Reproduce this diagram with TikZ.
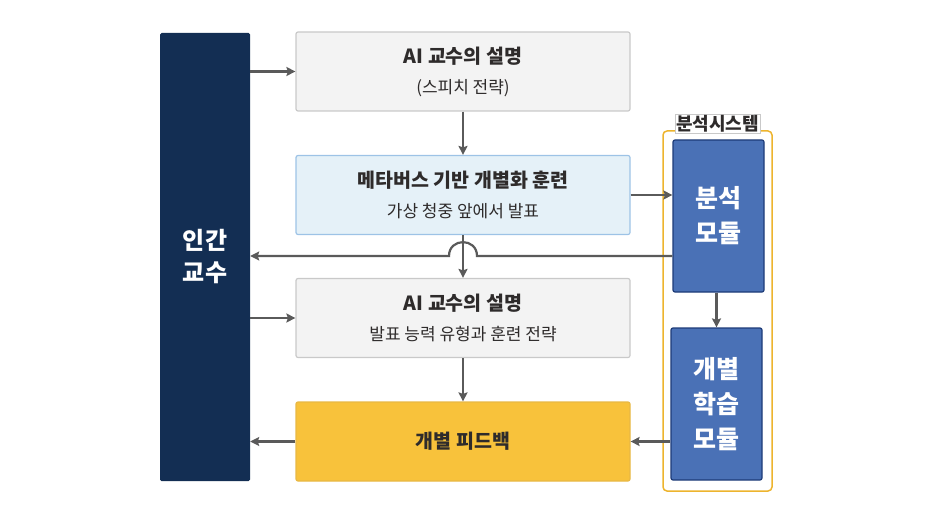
\documentclass[tikz,border=0pt]{standalone}
\usepackage{fontspec}
\setmainfont{Noto Sans CJK KR}
\usetikzlibrary{arrows.meta,positioning,calc}
\definecolor{navy}{HTML}{132E53}
\definecolor{gfill}{HTML}{F3F3F3}
\definecolor{gline}{HTML}{C9C9C9}
\definecolor{bfill}{HTML}{E5F1F8}
\definecolor{bline}{HTML}{9DC3E6}
\definecolor{yfill}{HTML}{F8C23B}
\definecolor{yline}{HTML}{E8B845}
\definecolor{mfill}{HTML}{4A71B6}
\definecolor{mline}{HTML}{1D3B78}
\definecolor{frame}{HTML}{EDB42E}
\definecolor{arrc}{HTML}{5A5A5A}
\definecolor{txt}{HTML}{2E2B2B}
\newcommand{\ttlfont}{\bfseries\fontsize{19.5}{30}\selectfont}
\begin{document}
\begin{tikzpicture}[x=1pt,y=-1pt,
  box/.style={draw=gline,fill=gfill,line width=1.2pt,rounded corners=2pt,minimum width=334pt,minimum height=79pt,inner sep=0pt,text=txt,align=center,font=\fontsize{17}{30}\selectfont},
  mod/.style={draw=mline,fill=mfill,line width=1.2pt,rounded corners=2pt,minimum width=91pt,minimum height=152pt,inner sep=0pt,text=white,align=center,font=\bfseries\fontsize{25}{35}\selectfont},
  arr/.style={draw=arrc,line width=2.2pt,-{Stealth[length=9pt,width=9pt,inset=1.5pt]}}]
\useasboundingbox (0,0) rectangle (936,505);
% system frame
\node[draw=frame,line width=1.5pt,rounded corners=4pt,minimum width=109pt,minimum height=360pt,inner sep=0pt] (sys) at (717.5,311) {};
\node[fill=white,draw=gline,line width=0.4pt,inner sep=1.2pt,text=txt,font=\bfseries\fontsize{18}{20}\selectfont] (syslabel) at (717.5,124) {분석시스템};
% human
\node[fill=navy,rounded corners=1.5pt,minimum width=90pt,minimum height=448pt,inner sep=0pt,text=white,align=center,font=\bfseries\fontsize{24}{32}\selectfont] (human) at (205,257) {인간\\교수};
% boxes
\node[box] (b1) at (463,71.5) {{\ttlfont AI 교수의 설명}\\(스피치 전략)};
\node[box,fill=bfill,draw=bline] (b2) at (463,195) {{\ttlfont 메타버스 기반 개별화 훈련}\\가상 청중 앞에서 발표};
\node[box] (b3) at (463,318) {{\ttlfont AI 교수의 설명}\\발표 능력 유형과 훈련 전략};
\node[box,fill=yfill,draw=yline,font=\ttlfont] (b4) at (463,441.5) {개별 피드백};
% modules
\node[mod] (ana) at (718.5,216) {분석\\모듈};
\node[mod] (learn) at (716.5,404) {개별\\학습\\모듈};
% connectors
\draw[arr] (human.east |- b1) -- (b1.west);
\draw[arr] (b1.south) -- (b2.north);
\draw[arr] (b2.east) -- (b2.east -| ana.west);
\draw[arr] (b2.south) -- (b3.north);
\draw[arr] (human.east |- b3) -- (b3.west);
\draw[arr] (b3.south) -- (b4.north);
\draw[arr] (b4.west) -- (b4.west -| human.east);
\draw[arr] (ana.south -| learn.north) -- (learn.north);
\draw[arr] (learn.west |- b4) -- (b4.east);
\coordinate (jmp) at (463,256);
\draw[arr] (ana.west |- jmp) -- ($(jmp)+(14,0)$) .. controls ($(jmp)+(14,-18.5)$) and ($(jmp)+(-14,-18.5)$) .. ($(jmp)+(-14,0)$) -- (human.east |- jmp);
\end{tikzpicture}
\end{document}
